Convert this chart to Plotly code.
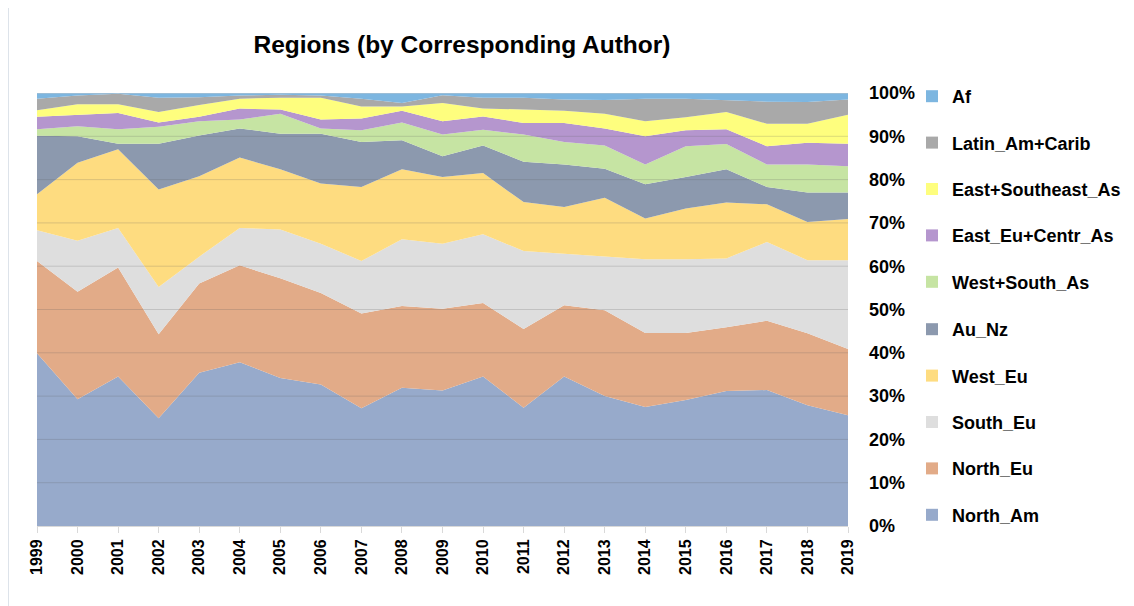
import plotly.graph_objects as go

years = [str(y) for y in range(1999, 2020)]

north_am = [39.9, 29.3, 34.5, 24.9, 35.4, 37.8, 34.2, 32.7, 27.2, 31.9, 31.3, 34.5, 27.3, 34.5, 30.0, 27.5, 29.1, 31.2, 31.4, 27.9, 25.6]
north_eu = [21.3, 24.8, 25.2, 19.4, 20.6, 22.4, 23.0, 21.1, 21.9, 18.9, 18.9, 17.0, 18.2, 16.5, 19.8, 17.1, 15.5, 14.7, 16.0, 16.6, 15.3]
south_eu = [7.1, 11.8, 9.1, 10.9, 6.2, 8.6, 11.3, 11.4, 12.1, 15.4, 15.0, 15.9, 18.0, 11.9, 12.4, 17.0, 17.0, 15.9, 18.2, 16.9, 20.5]
west_eu = [8.3, 18.0, 18.2, 22.5, 18.6, 16.3, 13.9, 13.9, 17.1, 16.2, 15.4, 14.1, 11.3, 10.8, 13.6, 9.4, 11.7, 12.9, 8.7, 8.8, 9.5]
au_nz = [13.5, 6.1, 1.3, 10.6, 9.4, 6.7, 8.2, 11.5, 10.4, 6.7, 4.8, 6.4, 9.3, 9.8, 6.7, 7.9, 7.3, 7.7, 4.0, 6.8, 6.1]
west_south_as = [1.5, 2.3, 3.3, 3.9, 3.3, 2.1, 4.6, 1.2, 2.7, 4.1, 5.0, 3.6, 6.3, 5.2, 5.4, 4.6, 7.1, 5.8, 5.2, 6.5, 6.1]
east_eu_centr_as = [2.9, 2.6, 3.8, 1.0, 1.0, 2.5, 1.0, 2.1, 2.7, 2.7, 3.1, 3.1, 2.7, 4.4, 3.9, 6.5, 3.7, 3.4, 4.2, 5.0, 5.2]
east_southeast_as = [1.5, 2.5, 2.0, 2.4, 2.7, 2.3, 2.7, 5.0, 2.8, 1.0, 4.2, 1.8, 3.1, 2.8, 3.4, 3.5, 3.0, 4.0, 5.2, 4.4, 6.7]
latin_am_carib = [2.7, 2.0, 2.4, 3.3, 1.8, 0.7, 0.7, 0.5, 1.8, 0.8, 1.8, 2.5, 2.7, 2.6, 3.2, 5.2, 4.3, 2.8, 5.1, 5.0, 3.5]
af = [1.3, 0.6, 0.2, 1.1, 1.0, 0.6, 0.4, 0.6, 1.3, 2.3, 0.5, 1.1, 1.1, 1.5, 1.6, 1.3, 1.3, 1.6, 2.0, 2.1, 1.5]

series_names = ["North_Am", "North_Eu", "South_Eu", "West_Eu", "Au_Nz", "West+South_As",
                "East_Eu+Centr_As", "East+Southeast_As", "Latin_Am+Carib", "Af"]
series_values = [north_am, north_eu, south_eu, west_eu, au_nz, west_south_as,
                 east_eu_centr_as, east_southeast_as, latin_am_carib, af]
series_colors = ["#97AACB", "#E2AB88", "#DEDEDE", "#FEDC80", "#8C99AE", "#C6E4A3",
                 "#B596CE", "#FEFE7E", "#A9A9A9", "#7DB6E0"]
y_ticks = list(range(0, 101, 10))

FONT = "Liberation Sans, Arial, sans-serif"

# page pixel targets; the html body adds an 8px margin, so subtract it
OFF = 8
W, H = 1134, 606
L, R, T, B = 37 - OFF, 848 - OFF, 93 - OFF, 526 - OFF
PW, PH = R - L, B - T

def px_x(px):
    return (px - OFF - L) / PW

def px_y(py):
    return (B - (py - OFF)) / PH

fig = go.Figure()
n = len(series_names)
for i, (name, vals, col) in enumerate(zip(series_names, series_values, series_colors)):
    fig.add_trace(go.Scatter(
        x=years, y=vals, name=name, mode="lines", stackgroup="one", groupnorm="percent",
        line=dict(width=0, color=col), fillcolor=col, showlegend=False, hoverinfo="x+y+name"))
    fig.add_trace(go.Scatter(
        x=[None], y=[None], name=f"<b>{name}</b>", mode="markers", legendgroup=name,
        legendrank=n - i, legend="legend2" if i >= 5 else "legend",
        marker=dict(symbol="square", size=12, color=col), showlegend=True))

# gridlines drawn above the areas (as in the reference)
for t in y_ticks[1:]:
    fig.add_shape(type="line", xref="paper", x0=0, x1=1, yref="y", y0=t, y1=t,
                  line=dict(color="rgba(90,90,90,0.22)" if t < 100 else "rgba(200,200,200,0.8)", width=1),
                  layer="above")

# chart-area frame
fig.add_shape(type="rect", xref="paper", yref="paper",
              x0=px_x(8), x1=px_x(1150), y0=px_y(630), y1=px_y(7),
              line=dict(color="#dde3ea", width=2), fillcolor="rgba(0,0,0,0)", layer="below")

leg_common = dict(xanchor="left", yanchor="top", traceorder="grouped", tracegroupgap=20,
                  font=dict(family=FONT, size=18, color="black"), bgcolor="rgba(0,0,0,0)",
                  itemwidth=30)

fig.update_layout(
    width=W, height=H,
    paper_bgcolor="white", plot_bgcolor="white",
    margin=dict(l=L, r=W - R, t=T, b=H - B, autoexpand=False),
    title=dict(text="<b>Regions (by Corresponding Author)</b>", x=(462 - OFF) / W, xanchor="center",
               y=1 - (44 - OFF) / H, yanchor="middle", font=dict(family=FONT, size=24.5, color="black")),
    xaxis=dict(type="category", range=[0, 20], showgrid=False, ticks="outside", ticklen=6,
               tickcolor="#d9d9d9", showline=True, linecolor="#d9d9d9", tickangle=-90,
               tickfont=dict(family=FONT, size=16, color="black"), tickprefix="<b>", ticksuffix="</b>"),
    yaxis=dict(range=[0, 100], side="right", tickvals=y_ticks,
               ticktext=[f"<b>{t}%</b>" for t in y_ticks], showgrid=False, zeroline=False,
               ticks="", ticklabelstandoff=20,
               tickfont=dict(family=FONT, size=18, color="black")),
    legend=dict(x=px_x(912), y=px_y(311), **leg_common),
    legend2=dict(x=px_x(912), y=px_y(78), **leg_common),
    showlegend=True,
)

fig.write_html("out.html")
